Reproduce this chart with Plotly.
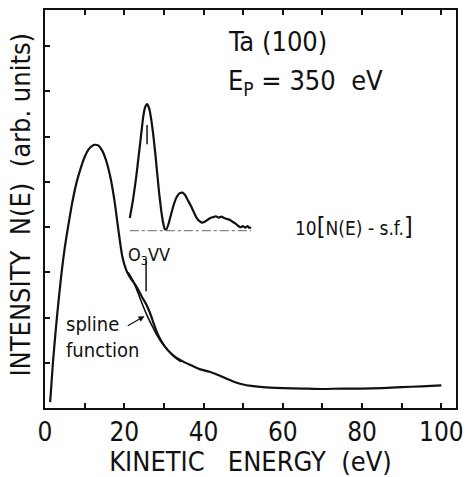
import plotly.graph_objects as go

# Main N(E) spectrum
energy = [1.3, 2.0, 3.0, 4.0, 5.0, 6.0, 7.0, 8.0, 9.0, 10.0, 11.0, 12.0, 12.5, 13.5, 14.5, 15.5, 16.5, 17.5, 18.5, 19.5, 20.5, 21.5, 22.5, 23.5, 24.5, 25.5, 26.5, 27.5, 28.5, 29.5, 31.0, 33.0, 35.0, 37.0, 39.0, 41.5, 44.0, 46.0, 48.0, 50.0, 52.0, 55.0, 60.0, 65.0, 70.0, 75.0, 80.0, 85.0, 90.0, 95.0, 100.0]
intensity = [0.13, 1.0, 2.0, 2.85, 3.55, 4.1, 4.6, 5.0, 5.3, 5.55, 5.72, 5.8, 5.82, 5.8, 5.68, 5.45, 5.1, 4.6, 3.95, 3.35, 3.05, 2.88, 2.76, 2.62, 2.45, 2.3, 2.1, 1.85, 1.62, 1.46, 1.28, 1.12, 1.02, 0.94, 0.86, 0.80, 0.72, 0.64, 0.57, 0.52, 0.49, 0.46, 0.44, 0.43, 0.42, 0.43, 0.43, 0.44, 0.46, 0.48, 0.5]

# Spline function (secondary background)
spline_e = [21.0, 22.0, 23.0, 24.0, 25.0, 26.0, 27.0, 28.0, 29.0, 30.0, 31.0, 32.0, 33.0, 34.3]
spline_i = [3.0, 2.85, 2.65, 2.42, 2.2, 2.0, 1.82, 1.65, 1.5, 1.38, 1.27, 1.18, 1.1, 1.02]

# 10[N(E) - s.f.] difference spectrum
diff_e = [21.4, 22.2, 23.0, 23.6, 24.2, 24.8, 25.3, 25.8, 26.3, 26.8, 27.3, 27.8, 28.3, 28.8, 29.3, 29.8, 30.2, 30.6, 31.2, 31.8, 32.5, 33.2, 34.0, 34.8, 35.4, 36.0, 36.8, 37.6, 38.3, 39.0, 39.6, 40.3, 41.0, 41.7, 42.4, 43.1, 43.8, 44.5, 45.2, 45.9, 46.6, 47.3, 48.0, 48.7, 49.3, 49.9, 50.5, 51.1, 51.6, 52.0]
diff_i = [4.2, 4.6, 5.1, 5.55, 6.0, 6.45, 6.66, 6.72, 6.62, 6.38, 6.05, 5.65, 5.2, 4.75, 4.38, 4.1, 3.96, 3.95, 4.08, 4.28, 4.5, 4.66, 4.75, 4.76, 4.7, 4.6, 4.47, 4.32, 4.2, 4.13, 4.1, 4.12, 4.16, 4.2, 4.22, 4.24, 4.21, 4.23, 4.2, 4.18, 4.16, 4.12, 4.08, 4.03, 4.0, 4.02, 3.99, 4.02, 3.98, 4.0]

baseline_e = [21.4, 52.0]
baseline_i = [3.92, 3.92]

x_ticks = [0, 20, 40, 60, 80, 100]

FONT = "Liberation Sans Narrow, DejaVu Sans Condensed, Liberation Sans, sans-serif"
BLACK = "#111111"

fig = go.Figure()
fig.add_trace(go.Scatter(x=energy, y=intensity, mode="lines", line=dict(color=BLACK, width=2.2, shape="spline", smoothing=0.6), showlegend=False))
fig.add_trace(go.Scatter(x=spline_e, y=spline_i, mode="lines", line=dict(color=BLACK, width=1.6, shape="spline"), showlegend=False))
fig.add_trace(go.Scatter(x=diff_e, y=diff_i, mode="lines", line=dict(color=BLACK, width=2.2, shape="spline", smoothing=0.5), showlegend=False))
fig.add_trace(go.Scatter(x=baseline_e, y=baseline_i, mode="lines", line=dict(color="#666666", width=1, dash="dashdot"), showlegend=False))

# peak markers
fig.add_trace(go.Scatter(x=[25.75, 25.75], y=[5.83, 6.26], mode="lines", line=dict(color=BLACK, width=1.5), showlegend=False))
fig.add_trace(go.Scatter(x=[25.5, 25.5], y=[2.58, 3.27], mode="lines", line=dict(color=BLACK, width=1.5), showlegend=False))

fig.add_annotation(x=26.3, y=3.36, text="O<sub>3</sub>VV", showarrow=False, font=dict(family=FONT, size=18, color=BLACK), xanchor="center", yanchor="middle")
fig.add_annotation(x=25.1, y=2.03, ax=20.5, ay=1.8, axref="x", ayref="y", text="", showarrow=True, arrowhead=2, arrowsize=1, arrowwidth=1.2, arrowcolor=BLACK)
fig.add_annotation(x=4.9, y=1.58, text="spline<br>function", showarrow=False, align="left", xanchor="left", yanchor="middle", font=dict(family=FONT, size=20, color=BLACK))
fig.add_annotation(x=45.6, y=8.1, text="Ta (100)", showarrow=False, xanchor="left", yanchor="middle", font=dict(family=FONT, size=27, color=BLACK))
fig.add_annotation(x=45.6, y=7.2, text="E<sub>P</sub> = 350  eV", showarrow=False, xanchor="left", yanchor="middle", font=dict(family=FONT, size=27, color=BLACK))
fig.add_annotation(x=62.6, y=4.02, text="10<span style='font-size:25px'>[</span>N(E) - s.f.<span style='font-size:25px'>]</span>", showarrow=False, xanchor="left", yanchor="middle", font=dict(family=FONT, size=19, color=BLACK))

# y-axis title as a rotated annotation
fig.add_annotation(xref="paper", yref="paper", x=-0.06, y=0.512, xanchor="center", yanchor="middle", textangle=-90,
                   text="INTENSITY\u00a0\u00a0N(E)\u00a0\u00a0(arb.\u00a0units)", showarrow=False, font=dict(family=FONT, size=27, color=BLACK))

fig.update_xaxes(range=[0, 103.7], tickvals=list(range(0, 101, 10)), ticktext=[str(v) if v in x_ticks else "" for v in range(0, 101, 10)],
                 ticks="inside", ticklen=5, tickwidth=1.5, tickcolor=BLACK, showline=True, linecolor=BLACK, linewidth=2, mirror="ticks",
                 showgrid=False, zeroline=False, tickfont=dict(family=FONT, size=26, color=BLACK),
                 title=dict(text="KINETIC\u00a0\u00a0\u00a0ENERGY\u00a0\u00a0(eV)", font=dict(family=FONT, size=27, color=BLACK), standoff=3))
fig.update_yaxes(range=[0, 8.8], tickvals=[1, 2, 3, 4, 5, 6, 7, 8], showticklabels=False,
                 ticks="inside", ticklen=5, tickwidth=1.5, tickcolor=BLACK, showline=True, linecolor=BLACK, linewidth=2, mirror=True,
                 showgrid=False, zeroline=False)

fig.update_layout(width=471, height=477, margin=dict(l=45, r=8, t=10, b=61), plot_bgcolor="white", paper_bgcolor="white")
fig.write_html("out.html")
